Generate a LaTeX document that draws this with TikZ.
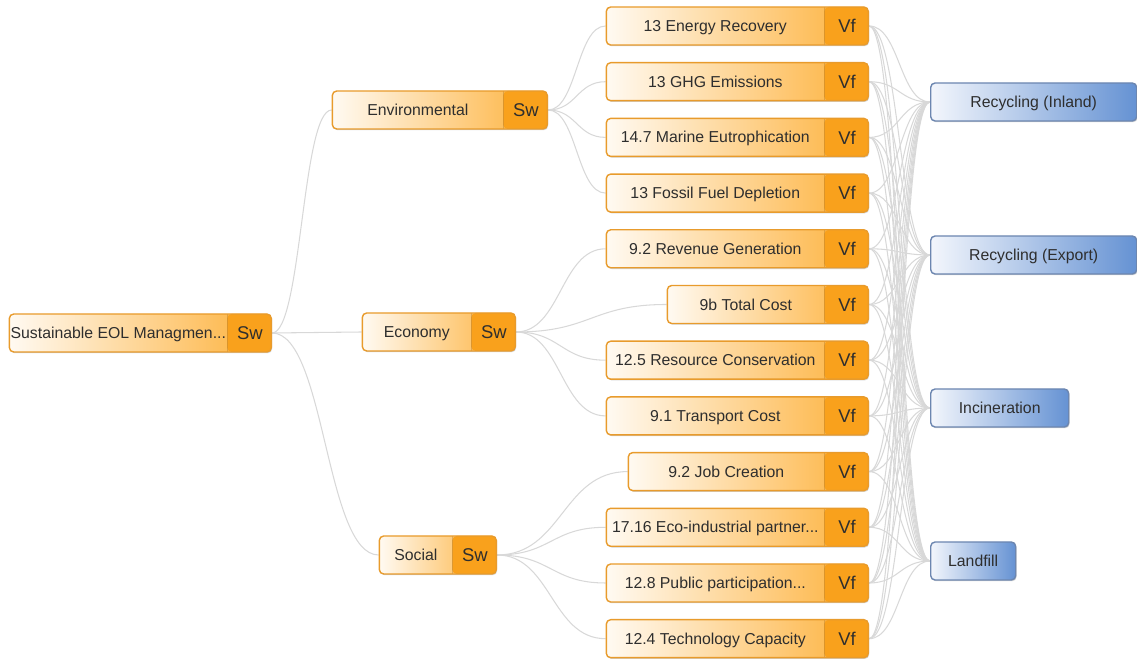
\documentclass[tikz,border=0pt]{standalone}
\usepackage{fontspec}
\setmainfont{Liberation Sans}
\usetikzlibrary{calc,shadows}
\pgfdeclarelayer{bg}
\pgfsetlayers{bg,main}
\definecolor{txt}{HTML}{2E2E2E}
\definecolor{critline}{HTML}{E89B2C}
\definecolor{critlight}{HTML}{FFFAF2}
\definecolor{critdark}{HTML}{FDB038}
\definecolor{tagfill}{HTML}{F9A11C}
\definecolor{altline}{HTML}{6C86B0}
\definecolor{altlight}{HTML}{F3F6FC}
\definecolor{altdark}{HTML}{6592D3}
\definecolor{linkgray}{HTML}{D8D8D8}
\tikzstyle{box}=[rectangle,rounded corners=2.5pt,minimum height=0.76cm,inner xsep=0pt,line width=0.8pt,text=txt,text height=6.6pt,text depth=0.3pt,font=\fontsize{9}{11}\selectfont,drop shadow={shadow xshift=0.5pt,shadow yshift=-0.7pt,opacity=0.3,fill=black!60}]
\tikzstyle{crit}=[box,draw=critline,left color=critlight,right color=critdark,execute at end node={\hspace{0.88cm}},
  path picture={\fill[tagfill] ([xshift=-0.88cm]path picture bounding box.north east) rectangle (path picture bounding box.south east);
    \draw[critline!70!black,opacity=.35] ([xshift=-0.88cm]path picture bounding box.north east) -- ([xshift=-0.88cm]path picture bounding box.south east);}]
\tikzstyle{alt}=[box,draw=altline,left color=altlight,right color=altdark]
\tikzstyle{tag}=[text=txt,text height=7.6pt,text depth=0pt,font=\fontsize{10.5}{12}\selectfont]
\tikzstyle{link}=[draw=linkgray,line width=0.6pt,to path={let \p1=(\tikztostart), \p2=(\tikztotarget) in .. controls ({(\x1+\x2)/2},\y1) and ({(\x1+\x2)/2},\y2) .. (\tikztotarget)}]

\begin{document}
\begin{tikzpicture}[x=0.02cm,y=-0.02cm]
    \useasboundingbox (0,0) rectangle (1137,661);
    \node[crit,minimum width=5.24cm,anchor=east] (root) at (272,333) {Sustainable EOL Managmen...};
    \node[crit,minimum width=4.3cm,anchor=east] (env) at (548,110) {Environmental};
    \node[crit,minimum width=3.06cm,anchor=east] (eco) at (516,332) {Economy};
    \node[crit,minimum width=2.34cm,anchor=east] (soc) at (497,555) {Social};
    \foreach \k in {root,env,eco,soc}
        \node[tag] (\k-t) at ([xshift=-0.44cm]\k.east) {Sw};
    \foreach \i/\w/\t in {1/262/{13 Energy Recovery},2/262/{13 GHG Emissions},3/262/{14.7 Marine Eutrophication},
        4/262/{13 Fossil Fuel Depletion},5/262/{9.2 Revenue Generation},6/201/{9b Total Cost},
        7/262/{12.5 Resource Conservation},8/262/{9.1 Transport Cost},9/240/{9.2 Job Creation},
        10/262/{17.16 Eco-industrial partner...},11/262/{12.8 Public participation...},12/262/{12.4 Technology Capacity}}{
        \node[crit,minimum width={\w*0.02cm},anchor=east] (c\i) at (869,{26+55.7*(\i-1)}) {\t};
        \node[tag] (c\i-t) at ([xshift=-0.44cm]c\i.east) {Vf};
    }
    \foreach \j/\w/\t in {1/206/{Recycling (Inland)},2/206/{Recycling (Export)},3/138/Incineration,4/85/Landfill}
        \node[alt,minimum width={\w*0.02cm},anchor=west] (a\j) at (930,{102+153*(\j-1)}) {\t};
    \begin{pgfonlayer}{bg}
        \foreach \k in {env,eco,soc}
            \draw[link] (root.east) to (\k.west);
        \foreach \i in {1,...,4}
            \draw[link] (env.east) to (c\i.west);
        \foreach \i in {5,...,8}
            \draw[link] (eco.east) to (c\i.west);
        \foreach \i in {9,...,12}
            \draw[link] (soc.east) to (c\i.west);
        \foreach \i in {1,...,12}
            \foreach \j in {1,...,4}
                \draw[link] (c\i.east) to (a\j.west);
    \end{pgfonlayer}
\end{tikzpicture}
\end{document}
